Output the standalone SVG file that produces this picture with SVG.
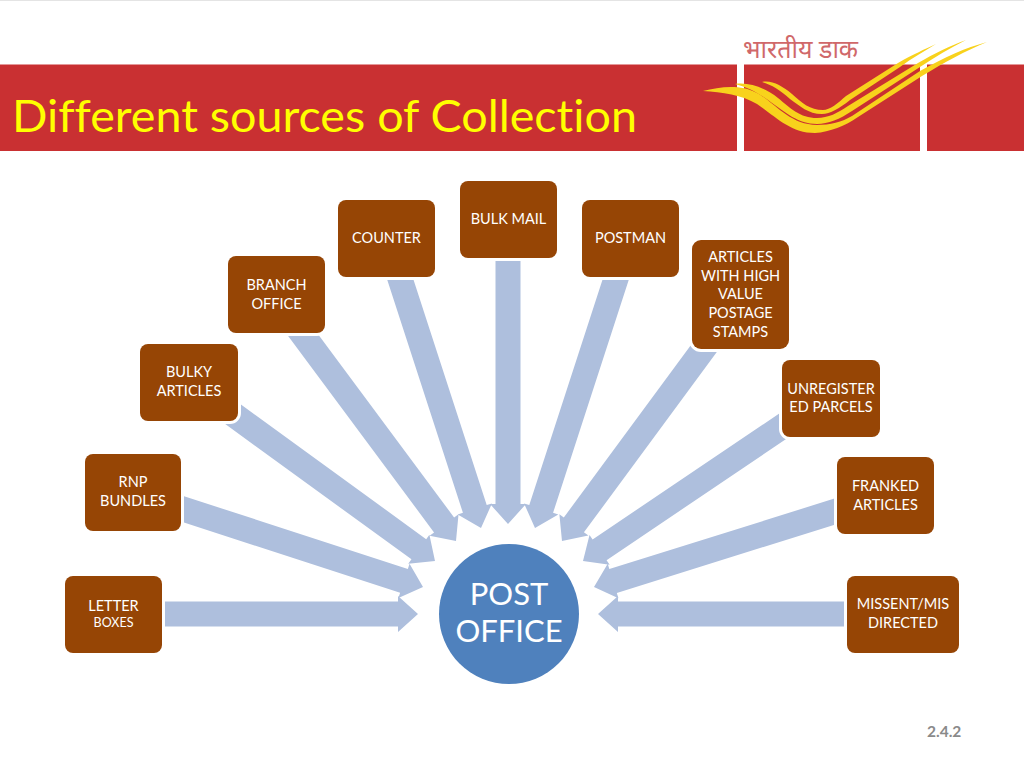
<svg xmlns="http://www.w3.org/2000/svg" width="1024" height="768" viewBox="0 0 1024 768">
<style>
.box{fill:#964505;stroke:#fff;stroke-width:6;paint-order:stroke}
.t{font-family:"Lato","Liberation Sans",sans-serif;font-size:14.5px;fill:#fff;text-anchor:middle;font-variant-ligatures:none}
.arr{fill:#aebfdd}
.sw{fill:#f8d21c}
</style>
<rect width="1024" height="768" fill="#fff"/>
<rect x="0" y="0" width="1024" height="1" fill="#e4e4e4"/>
<g id="header">
<rect x="0" y="64.500" width="1024" height="86.500" fill="#c93032"/>
<rect x="737" y="64" width="7" height="87" fill="#fff"/>
<rect x="920" y="64" width="7" height="87" fill="#fff"/>
<text x="743" y="58" font-family="'Noto Sans','DejaVu Sans',sans-serif" font-size="25" fill="#d0686a">भारतीय डाक</text>
<path class="sw" d="M703,91 C720,87 740,84 757,93 C775,103 790,125 817,125 C830,125 842,122 852,116 L920,71 C945,57 965,48 987,42 C965,51 945,62 922,76 L858,117 C845,126 830,132 815,133 C790,133 775,116 757,104 C742,95 722,92 703,91Z"/>
<path class="sw" d="M735,84 C750,82 765,88 778,98 C790,108 800,118 817,118 C828,118 838,113 848,106 L918,63 C935,53 950,46 966,40 C950,48 935,57 920,67 L852,111 C840,119 828,124 817,124 C798,124 785,112 772,103 C760,94 750,88 735,84Z"/>
<path class="sw" d="M762,82 C772,80 782,86 792,94 C802,103 810,110 823,110 C830,110 838,103 846,96 L898,63 C912,55 925,49 936,44 C925,51 912,58 900,67 L850,100 C840,108 830,114 822,114 C808,114 800,106 790,99 C780,90 772,85 762,82Z"/>
<text x="12" y="132" font-family="Lato,'Liberation Sans',sans-serif" font-size="44" fill="#ffff00" style="font-variant-ligatures:none" textLength="625" lengthAdjust="spacingAndGlyphs">Different sources of Collection</text>
</g>
<g id="connectors" class="arr">
<polygon transform="translate(418,614)" points="-253,-12.500 -20,-12.500 -20,-18 0,0 -20,18 -20,12.500 -253,12.500"/>
<polygon transform="translate(423,587) rotate(18)" points="-265,-12.500 -20,-12.500 -20,-18 0,0 -20,18 -20,12.500 -265,12.500"/>
<polygon transform="translate(435,561) rotate(36)" points="-265,-12.500 -20,-12.500 -20,-18 0,0 -20,18 -20,12.500 -265,12.500"/>
<polygon transform="translate(456,541) rotate(53.4)" points="-270,-12.500 -20,-12.500 -20,-18 0,0 -20,18 -20,12.500 -270,12.500"/>
<polygon transform="translate(481,528) rotate(72)" points="-275,-12.500 -20,-12.500 -20,-18 0,0 -20,18 -20,12.500 -275,12.500"/>
<polygon transform="translate(508,524) rotate(90)" points="-270,-12.500 -20,-12.500 -20,-18 0,0 -20,18 -20,12.500 -270,12.500"/>
<polygon transform="translate(535,528) rotate(108)" points="-275,-12.500 -20,-12.500 -20,-18 0,0 -20,18 -20,12.500 -275,12.500"/>
<polygon transform="translate(562,541) rotate(126.4)" points="-252,-12.500 -20,-12.500 -20,-18 0,0 -20,18 -20,12.500 -252,12.500"/>
<polygon transform="translate(583,561) rotate(146)" points="-254,-12.500 -20,-12.500 -20,-18 0,0 -20,18 -20,12.500 -254,12.500"/>
<polygon transform="translate(594,587) rotate(162.6)" points="-265,-12.500 -20,-12.500 -20,-18 0,0 -20,18 -20,12.500 -265,12.500"/>
<polygon transform="translate(598,614) rotate(180)" points="-255,-12.500 -20,-12.500 -20,-18 0,0 -20,18 -20,12.500 -255,12.500"/>
</g>
<g id="n-letter"><rect class="box" x="65" y="576" width="97" height="77" rx="8"/><text class="t" x="113.500" y="611">LETTER</text><text class="t" x="113.500" y="627" style="font-size:12.5px">BOXES</text></g>
<g id="n-rnp"><rect class="box" x="85" y="454" width="96" height="77" rx="8"/><text class="t" x="133" y="487">RNP</text><text class="t" x="133" y="506">BUNDLES</text></g>
<g id="n-bulky"><rect class="box" x="140" y="344" width="98" height="77" rx="8"/><text class="t" x="189" y="377">BULKY</text><text class="t" x="189" y="396">ARTICLES</text></g>
<g id="n-branch"><rect class="box" x="228" y="256" width="97" height="77" rx="8"/><text class="t" x="276.500" y="290">BRANCH</text><text class="t" x="276.500" y="309">OFFICE</text></g>
<g id="n-counter"><rect class="box" x="338" y="200" width="97" height="77" rx="8"/><text class="t" x="386.500" y="243">COUNTER</text></g>
<g id="n-bulk"><rect class="box" x="460" y="181" width="97" height="77" rx="8"/><text class="t" x="508.500" y="224">BULK MAIL</text></g>
<g id="n-postman"><rect class="box" x="582" y="200" width="97" height="77" rx="8"/><text class="t" x="630.500" y="243">POSTMAN</text></g>
<g id="n-articles"><rect class="box" x="692" y="240" width="97" height="109" rx="9"/><text class="t" x="740.500" y="262">ARTICLES</text><text class="t" x="740.500" y="281">WITH HIGH</text><text class="t" x="740.500" y="299">VALUE</text><text class="t" x="740.500" y="318">POSTAGE</text><text class="t" x="740.500" y="337">STAMPS</text></g>
<g id="n-unreg"><rect class="box" x="782" y="360" width="98" height="77" rx="8"/><text class="t" x="831" y="394">UNREGISTER</text><text class="t" x="831" y="412">ED PARCELS</text></g>
<g id="n-franked"><rect class="box" x="837" y="457" width="97" height="77" rx="8"/><text class="t" x="885.500" y="491">FRANKED</text><text class="t" x="885.500" y="510">ARTICLES</text></g>
<g id="n-missent"><rect class="box" x="847" y="576" width="112" height="77" rx="8"/><text class="t" x="903" y="609">MISSENT/MIS</text><text class="t" x="903" y="628">DIRECTED</text></g>
<g id="n-post"><circle cx="509" cy="614" r="70" fill="#4f81bd"/><text class="t" x="509" y="605" style="font-size:31px">POST</text><text class="t" x="509" y="642" style="font-size:31px">OFFICE</text></g>
<text id="page" x="927" y="737" font-family="Lato,'Liberation Sans',sans-serif" font-size="15.500" font-weight="700" fill="#8a8a8a">2.4.2</text>
</svg>
